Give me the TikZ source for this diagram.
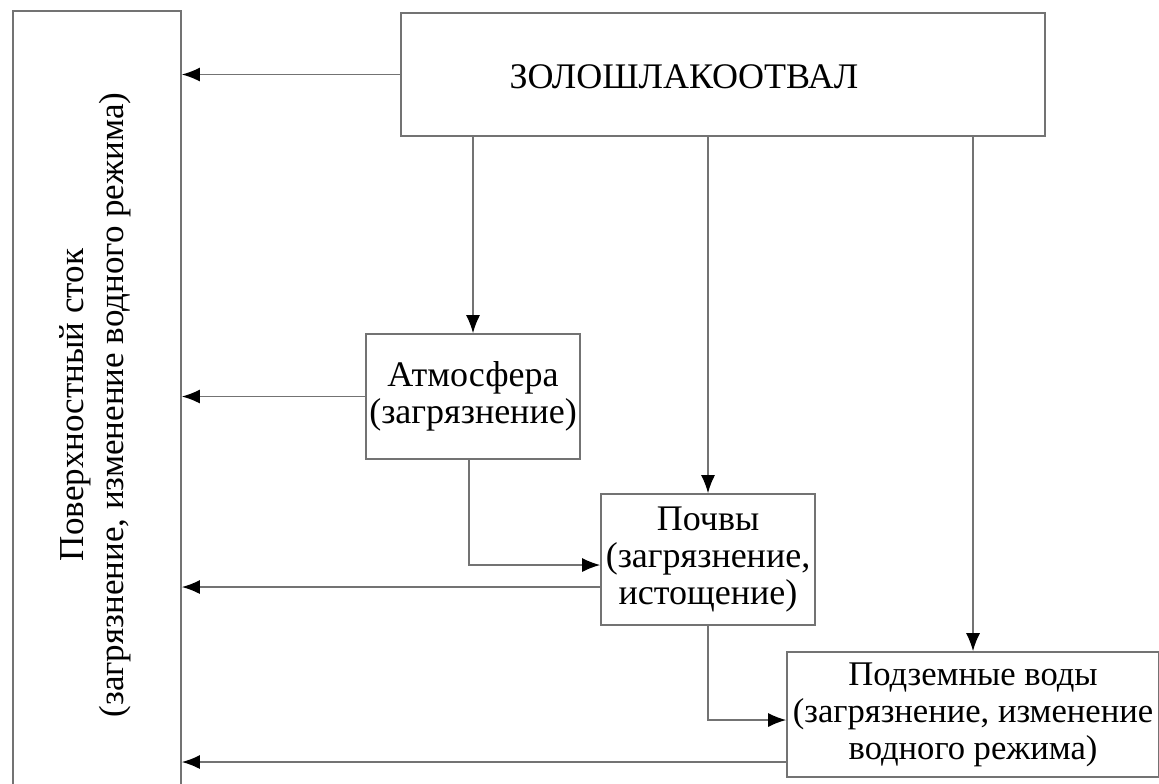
\documentclass[tikz,border=0pt]{standalone}
\usepackage{fontspec}
\setmainfont{Liberation Serif}
\usetikzlibrary{arrows.meta}

\begin{document}
\begin{tikzpicture}[x=0.5pt, y=-0.5pt,
    box/.style={draw=linegray, line width=0.8pt, fill=white, inner sep=0pt},
    lbl/.style={align=center, font=\fontsize{18}{18.5}\selectfont},
    flow/.style={draw=linegray, line width=0.8pt, -{Latex[length=9pt,width=7pt,black]}}]
    \colorlet{linegray}{black!55}

    \clip (0,0) rectangle (1159,783);

    %% left column
    \node[box, minimum width=84pt, minimum height=400pt] (stok) at (97,411) {};
    \node[lbl, rotate=90, font=\fontsize{17.5}{20}\selectfont] (stoktxt) at (95,405) {Поверхностный сток\\(загрязнение, изменение водного режима)};

    %% source
    \node[box, minimum width=322pt, minimum height=61.5pt] (zso) at (723,74.5) {};
    \node[lbl] (zsotxt) at (684,77) {ЗОЛОШЛАКООТВАЛ};

    \node[box, lbl, minimum width=107pt, minimum height=62.5pt] (atm) at (473,396.5) {Атмосфера\\(загрязнение)};
    \node[box, lbl, minimum width=107pt, minimum height=65.5pt] (poch) at (708,559.5) {Почвы\\(загрязнение,\\истощение)};
    \node[box, lbl, font=\fontsize{17.3}{18.5}\selectfont, minimum width=186pt, minimum height=62.5pt] (podz) at (973,714.5) {Подземные воды\\(загрязнение, изменение\\водного режима)};

    %% down from the source
    \draw[flow] (atm.north |- zso.south) -- (atm.north);
    \draw[flow] (poch.north |- zso.south) -- (poch.north);
    \draw[flow] (podz.north |- zso.south) -- (podz.north);

    \draw[flow] ([xshift=-2pt]atm.south) |- ([yshift=-2.75pt]poch.west);
    \draw[flow] (poch.south) |- ([yshift=-2.75pt]podz.west);

    %% to the surface runoff
    \draw[flow] (zso.west) -- (zso.west -| stok.east);
    \draw[flow] (atm.west) -- (atm.west -| stok.east);
    \draw[flow] ([yshift=-13.75pt]poch.west) -- ([yshift=-13.75pt]poch.west -| stok.east);
    \draw[flow] ([yshift=-23.75pt]podz.west) -- ([yshift=-23.75pt]podz.west -| stok.east);

\end{tikzpicture}
\end{document}
